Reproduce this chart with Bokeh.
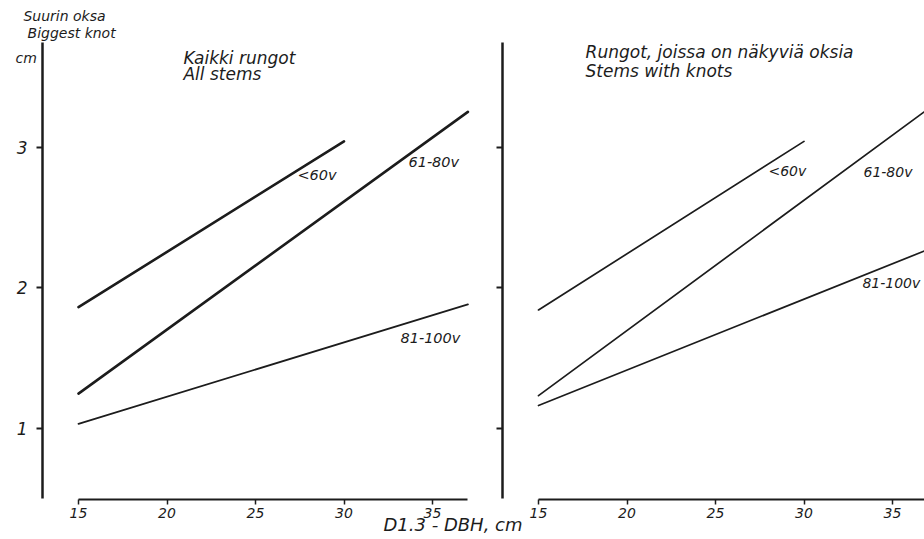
from bokeh.plotting import figure
from bokeh.models import ColumnDataSource, Label, FixedTicker, Range1d, LinearAxis
from bokeh.embed import file_html
from bokeh.resources import INLINE

# ---- data -------------------------------------------------------------
age_groups = ["<60v", "61-80v", "81-100v"]
dbh_start = [15, 15, 15]

# left panel: all stems (Kaikki rungot)
dbh_end_all = [30, 37, 37]
knot_start_all = [1.86, 1.245, 1.03]
knot_end_all = [3.04, 3.25, 1.88]

# right panel: stems with knots (Rungot, joissa on näkyviä oksia)
dbh_end_knots = [30, 37, 37]
knot_start_knots = [1.84, 1.23, 1.16]
knot_end_knots = [3.04, 3.27, 2.27]

x_ticks = [15, 20, 25, 30, 35]
y_ticks = [1, 2, 3]

# ---- styling / layout constants ---------------------------------------
FONT = "DejaVu Sans"
INK = "#1c1c1c"
W, H = 924, 537
PX_PER_CM = 17.7          # horizontal scale of both panels
PX_PER_UNIT = 140.5       # vertical scale (cm of knot)
AXIS_X = 12.966           # x value where each panel's y axis stands
AXIS_Y = 0.49             # y value where the x axes stand
LEFT_AXIS_PX, RIGHT_AXIS_PX = 42, 502
Y_TOP = 568 / PX_PER_UNIT

left_x0 = AXIS_X - LEFT_AXIS_PX / PX_PER_CM
right_x0 = AXIS_X - RIGHT_AXIS_PX / PX_PER_CM

p = figure(width=W, height=H,
           x_range=Range1d(left_x0, left_x0 + W / PX_PER_CM),
           y_range=Range1d(Y_TOP - H / PX_PER_UNIT, Y_TOP),
           x_axis_type=None, y_axis_type=None,
           output_backend="svg", toolbar_location=None, min_border=0)
p.extra_x_ranges = {"knots": Range1d(right_x0, right_x0 + W / PX_PER_CM)}
p.outline_line_color = None
p.background_fill_color = "white"
p.border_fill_color = "white"


def style_common(ax):
    ax.axis_line_color = INK
    ax.major_tick_line_color = INK
    ax.major_tick_in = 0
    ax.minor_tick_line_color = None
    ax.major_label_text_font = FONT
    ax.major_label_text_font_style = "italic"
    ax.major_label_text_color = INK


for rng, show_labels in (("default", True), ("knots", False)):
    ya = LinearAxis(x_range_name=rng, fixed_location=AXIS_X,
                    bounds=(0.5, 3.745), ticker=FixedTicker(ticks=y_ticks))
    style_common(ya)
    ya.axis_line_width = 2.5
    ya.major_tick_line_width = 2
    ya.major_tick_out = 6
    ya.major_label_standoff = 9
    ya.major_label_text_font_size = "17px"
    if not show_labels:
        ya.major_label_overrides = {t: "" for t in y_ticks}
    p.add_layout(ya, "left")

    xa = LinearAxis(x_range_name=rng, fixed_location=AXIS_Y,
                    bounds=(15, 37), ticker=FixedTicker(ticks=x_ticks))
    style_common(xa)
    xa.axis_line_width = 2
    xa.major_tick_line_width = 1.5
    xa.major_tick_out = 5
    xa.major_label_standoff = 3
    xa.major_label_text_font_size = "14px"
    p.add_layout(xa, "below")


def add_label(x, y, text, size="14px", rng="default", align="left"):
    p.add_layout(Label(x=x, y=y, text=text, x_range_name=rng,
                       text_font=FONT, text_font_style="italic",
                       text_font_size=size, text_color=INK,
                       text_align=align, text_baseline="middle"))


# ---- left panel -------------------------------------------------------
src_all = ColumnDataSource(dict(x0=dbh_start, y0=knot_start_all,
                                x1=dbh_end_all, y1=knot_end_all,
                                lw=[2.6, 2.6, 1.8], grp=age_groups))
p.segment("x0", "y0", "x1", "y1", source=src_all, line_color=INK,
          line_width="lw", line_cap="round")

add_label(11.89, 3.929, "Suurin oksa", "14px")
add_label(12.12, 3.808, "Biggest knot", "14px")
add_label(11.44, 3.637, "cm", "14px")
add_label(20.93, 3.637, "Kaikki rungot", "17px")
add_label(20.93, 3.523, "All stems", "17px")
add_label(27.37, 2.80, age_groups[0], "14.5px")
add_label(33.64, 2.89, age_groups[1], "14.5px")
add_label(33.19, 1.64, age_groups[2], "14.5px")
add_label(32.23, 0.313, "D1.3 - DBH, cm", "18px")

# ---- right panel ------------------------------------------------------
src_knots = ColumnDataSource(dict(x0=dbh_start, y0=knot_start_knots,
                                  x1=dbh_end_knots, y1=knot_end_knots,
                                  grp=age_groups))
p.segment("x0", "y0", "x1", "y1", source=src_knots, x_range_name="knots",
          line_color=INK, line_width=1.7, line_cap="round")

add_label(17.66, 3.673, "Rungot, joissa on näkyviä oksia", "17px", "knots")
add_label(17.66, 3.544, "Stems with knots", "17px", "knots")
add_label(27.99, 2.83, age_groups[0], "14px", "knots")
add_label(33.36, 2.82, age_groups[1], "14px", "knots")
add_label(33.30, 2.03, age_groups[2], "14px", "knots")

open("out.html", "w").write(file_html(p, INLINE))
